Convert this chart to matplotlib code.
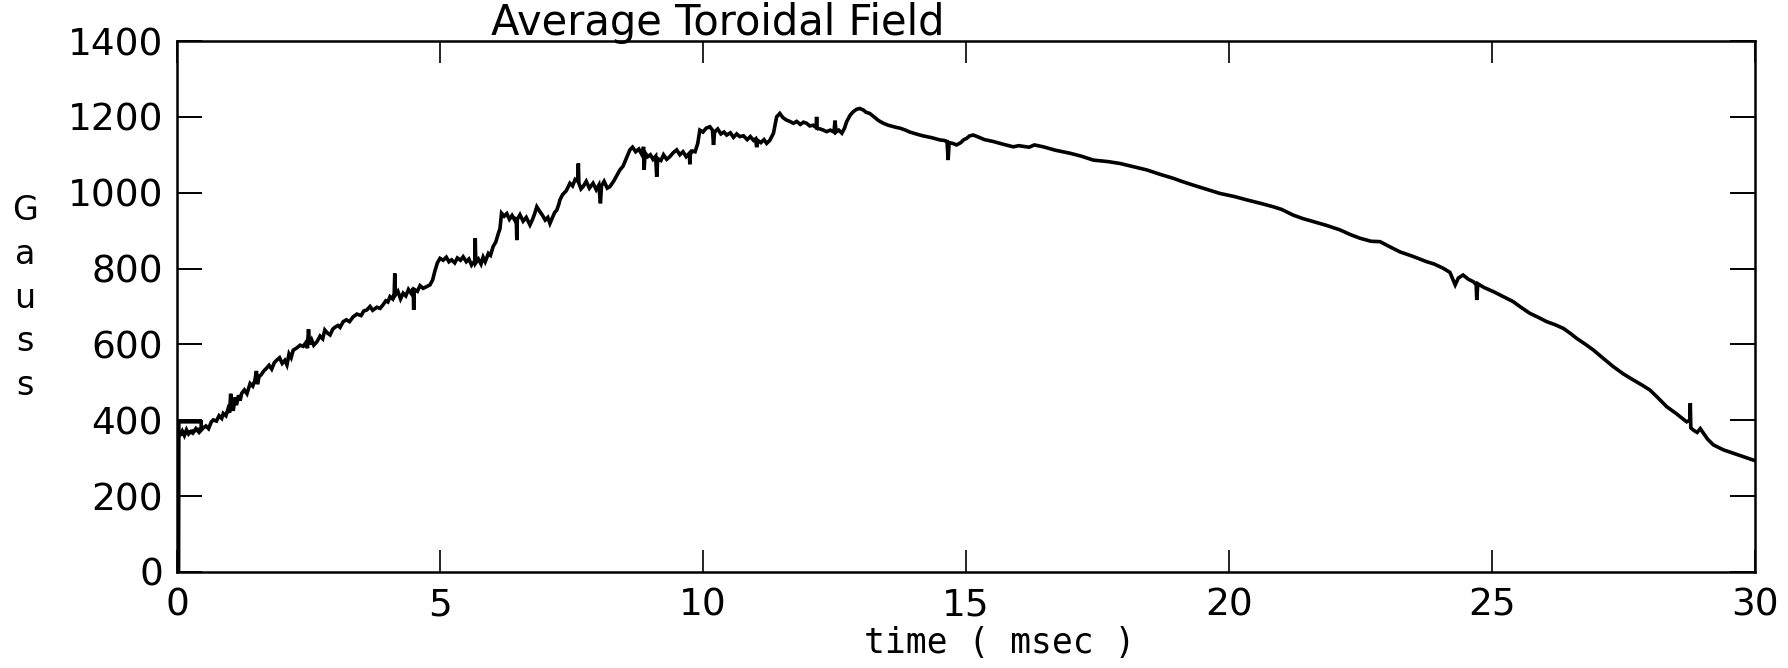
import matplotlib
matplotlib.use("Agg")
import matplotlib.pyplot as plt

# ---------------- data ----------------
time_ms = [
    0, 0.03, 0.035, 0.46, 0.46, 0.06, 0.10, 0.14, 0.18, 0.22, 0.26, 0.30, 0.36, 0.42, 0.50,
    0.55, 0.60, 0.65, 0.69, 0.75, 0.80, 0.85, 0.88, 0.93, 0.97,
    1.00, 1.02, 1.04, 1.07, 1.10, 1.13, 1.17, 1.20, 1.23, 1.28, 1.33, 1.39, 1.44, 1.48, 1.51, 1.53, 1.56, 1.60,
    1.65, 1.70, 1.75, 1.80, 1.85, 1.90, 1.95, 2.00, 2.05, 2.09, 2.13, 2.17, 2.21, 2.27, 2.34, 2.40, 2.45, 2.48,
    2.50, 2.52, 2.56, 2.60, 2.66,
    2.72, 2.77, 2.81, 2.86, 2.91, 2.96, 3.00, 3.06, 3.10, 3.16, 3.22, 3.28, 3.35, 3.42, 3.50,
    3.55, 3.61, 3.67, 3.72, 3.80, 3.86, 3.92, 3.97, 4.01, 4.05, 4.10, 4.13, 4.14, 4.15, 4.20, 4.25, 4.30,
    4.35, 4.40, 4.45,
    4.49, 4.50, 4.51, 4.57, 4.62, 4.68, 4.74, 4.81, 4.86, 4.90, 4.95, 5.00,
    5.06, 5.12, 5.17, 5.22, 5.28, 5.33, 5.39, 5.44, 5.50, 5.55, 5.60, 5.66, 5.67, 5.68, 5.73, 5.78, 5.82,
    5.86, 5.92, 5.96, 6.01, 6.06, 6.11, 6.14, 6.17,
    6.22, 6.27, 6.32, 6.37, 6.42, 6.45, 6.46, 6.47, 6.52, 6.58, 6.64, 6.71, 6.76, 6.80, 6.84, 6.90, 6.95,
    7.00, 7.05, 7.09, 7.14, 7.18, 7.22, 7.26, 7.28,
    7.33, 7.40, 7.47, 7.52, 7.57, 7.62, 7.63, 7.64, 7.68, 7.72, 7.78, 7.84, 7.91, 7.97, 8.02, 8.05, 8.07,
    8.12, 8.18, 8.23, 8.30, 8.36, 8.42, 8.48, 8.54, 8.61,
    8.66, 8.72, 8.78, 8.84, 8.87, 8.88, 8.90, 8.95, 9.00, 9.05, 9.10, 9.12, 9.14, 9.20, 9.25, 9.31, 9.37,
    9.43, 9.50, 9.56, 9.62, 9.68, 9.74, 9.75, 9.76, 9.80, 9.85, 9.90, 9.94,
    10.00, 10.06, 10.13, 10.18, 10.20, 10.22, 10.28, 10.34, 10.40, 10.45, 10.52, 10.58, 10.64, 10.70,
    10.77, 10.84, 10.90, 10.96, 11.00, 11.02, 11.04, 11.10, 11.16, 11.21, 11.27, 11.34, 11.40, 11.46,
    11.52, 11.58, 11.65, 11.72, 11.78, 11.85, 11.91, 11.97, 12.03, 12.09, 12.15, 12.16, 12.17, 12.23,
    12.29, 12.35, 12.42, 12.49, 12.51, 12.53, 12.58, 12.64, 12.69, 12.73, 12.80, 12.86, 12.92, 12.98, 13.05,
    13.10, 13.17, 13.25, 13.34, 13.43, 13.52, 13.60, 13.68, 13.75, 13.85, 13.93, 14.00, 14.10, 14.18,
    14.25, 14.35, 14.43, 14.51, 14.58, 14.64, 14.66, 14.68, 14.75, 14.82, 14.90, 14.96, 15.01, 15.07, 15.14,
    15.25, 15.35, 15.52, 15.70, 15.90, 16.00, 16.20, 16.30, 16.47, 16.70, 16.98, 17.20, 17.42, 17.70,
    17.93, 18.20, 18.44, 18.70, 18.94, 19.10, 19.32, 19.60, 19.83, 20.10, 20.34, 20.60, 20.84, 21.00,
    21.22, 21.40, 21.60, 21.85, 22.11, 22.30, 22.49,
    22.70, 22.87, 23.05, 23.25, 23.50, 23.76, 23.90, 24.07, 24.20, 24.30, 24.36, 24.45, 24.55, 24.65,
    24.70, 24.71, 24.73, 24.85, 25.03, 25.20, 25.40, 25.55, 25.72, 25.90, 26.04, 26.20, 26.36, 26.50,
    26.61, 26.78, 26.93, 27.10, 27.31, 27.50, 27.69, 27.85, 28.00, 28.15, 28.32, 28.50, 28.70, 28.76,
    28.77, 28.78, 28.83, 28.90, 28.96, 29.02, 29.10, 29.21, 29.40, 29.59, 29.80, 29.97, 30.00,
]
field_gauss = [
    0, 0, 396, 396, 378, 362, 372, 360, 375, 364, 370, 366, 378, 368, 380,
    385, 378, 395, 401, 398, 412, 405, 418, 412, 430,
    420, 470, 445, 425, 460, 440, 466, 452, 471, 480, 470, 497, 490, 505, 530, 495, 515, 520,
    530, 537, 545, 535, 552, 559, 565, 550, 558, 546, 575, 565, 585, 590, 598, 595, 605, 590,
    640, 600, 612, 598, 607,
    622, 615, 638, 630, 625, 640, 645, 650, 645, 660, 665, 660, 673, 680, 676,
    688, 691, 700, 690, 698, 695, 705, 715, 712, 726, 720, 735, 787, 730, 740, 720, 735,
    728, 745, 735,
    748, 691, 745, 740, 755, 748, 752, 757, 770, 792, 815, 827,
    822, 830, 818, 823, 815, 828, 822, 831, 818, 825, 809, 820, 880, 815, 825, 812, 830,
    818, 840, 835, 858, 870, 893, 905, 946,
    938, 945, 930, 940, 928, 935, 875, 930, 942, 925, 935, 915, 930, 945, 963, 950, 940,
    928, 935, 919, 935, 948, 954, 970, 981,
    995, 1005, 1025, 1018, 1035, 1030, 1077, 1025, 1010, 1016, 1030, 1012, 1025, 1008, 1020, 972, 1018,
    1030, 1012, 1016, 1030, 1045, 1060, 1070, 1090, 1113,
    1120, 1108, 1115, 1100, 1121, 1060, 1105, 1095, 1100, 1088, 1096, 1042, 1090, 1085, 1100, 1088, 1095,
    1105, 1113, 1100, 1108, 1095, 1104, 1075, 1102, 1110, 1108, 1130, 1165,
    1160, 1170, 1174, 1165, 1126, 1160, 1168, 1155, 1160, 1152, 1158, 1146, 1155, 1148,
    1150, 1140, 1148, 1138, 1142, 1120, 1138, 1132, 1140, 1130, 1138, 1157, 1200, 1209,
    1198, 1192, 1188, 1183, 1188, 1180, 1186, 1183, 1176, 1178, 1172, 1200, 1170, 1168,
    1165, 1161, 1165, 1160, 1190, 1160, 1165, 1157, 1170, 1187, 1205, 1214, 1220, 1222, 1218,
    1212, 1209, 1200, 1190, 1183, 1178, 1175, 1172, 1170, 1165, 1160, 1157, 1153, 1150,
    1148, 1145, 1142, 1139, 1138, 1135, 1086, 1132, 1130, 1126, 1132, 1140, 1143, 1150, 1152,
    1146, 1140, 1135, 1128, 1121, 1124, 1120, 1126, 1121, 1112, 1104, 1096, 1086, 1082,
    1077, 1068, 1060, 1048, 1038, 1030, 1020, 1008, 998, 990, 981, 972, 963, 956,
    941, 932, 924, 914, 902, 890, 880,
    872, 871, 858, 844, 832, 818, 812, 801, 790, 757, 775, 783, 772, 765,
    757, 717, 760, 750, 739, 727, 713, 698, 682, 670, 660, 652, 642, 628,
    616, 600, 585, 565, 541, 522, 506, 493, 480, 460, 436, 418, 396, 400,
    445, 380, 374, 368, 378, 366, 350, 335, 322, 313, 303, 295, 294,
]
x_ticks = [0, 5, 10, 15, 20, 25, 30]
y_ticks = [0, 200, 400, 600, 800, 1000, 1200, 1400]
title_text = "Average Toroidal Field"
xlabel_text = "time ( msec )"
ylabel_text = "G\na\nu\ns\ns"

# ---------------- figure ----------------
W, H, DPI = 1788, 668, 100
fig = plt.figure(figsize=(W / DPI, H / DPI), dpi=DPI, facecolor="white")
ax = fig.add_axes([177 / W, 1 - 572 / H, (1755 - 177) / W, (572 - 41) / H])

ax.plot(time_ms, field_gauss, color="black", lw=2.6, solid_joinstyle="miter")

ax.set_xlim(0, 30)
ax.set_ylim(0, 1400)
ax.set_xticks(x_ticks)
ax.set_yticks(y_ticks)
ax.set_xticklabels([str(v) for v in x_ticks])
ax.set_yticklabels([str(v) for v in y_ticks])

for s in ax.spines.values():
    s.set_linewidth(1.8)
    s.set_color("black")

ax.tick_params(axis="x", direction="in", length=16, width=1.2, top=True, bottom=True,
               pad=11, labelsize=27, colors="black")
ax.tick_params(axis="y", direction="in", length=18, width=1.4, left=True, right=True,
               pad=10, labelsize=27, colors="black")
for lbl in ax.get_xticklabels() + ax.get_yticklabels():
    lbl.set_family("DejaVu Sans")

# title (just above the frame)
t = fig.text(717.5 / W, 1 - 32 / H, title_text, ha="center", va="baseline",
             family="DejaVu Sans", fontsize=28, color="black")
fig.canvas.draw()
r = fig.canvas.get_renderer()
wpx = t.get_window_extent(r).width
t.set_fontsize(min(28 * 515 / wpx, 30))
fig.canvas.draw()
bb = t.get_window_extent(r)
if bb.y1 > H - 2:
    t.set_y(t.get_position()[1] - (bb.y1 - (H - 2)) / H)

# x label
fig.text(1000 / W, 1 - 653 / H, xlabel_text, ha="center", va="baseline",
         family="DejaVu Sans Mono", fontsize=25, color="black")

# y label, stacked letters
fig.text(25 / W, 1 - 298 / H, ylabel_text, ha="center", va="center",
         family="DejaVu Sans", fontsize=24, linespacing=1.42, color="black")

fig.savefig("out.png", dpi=DPI, facecolor="white")
